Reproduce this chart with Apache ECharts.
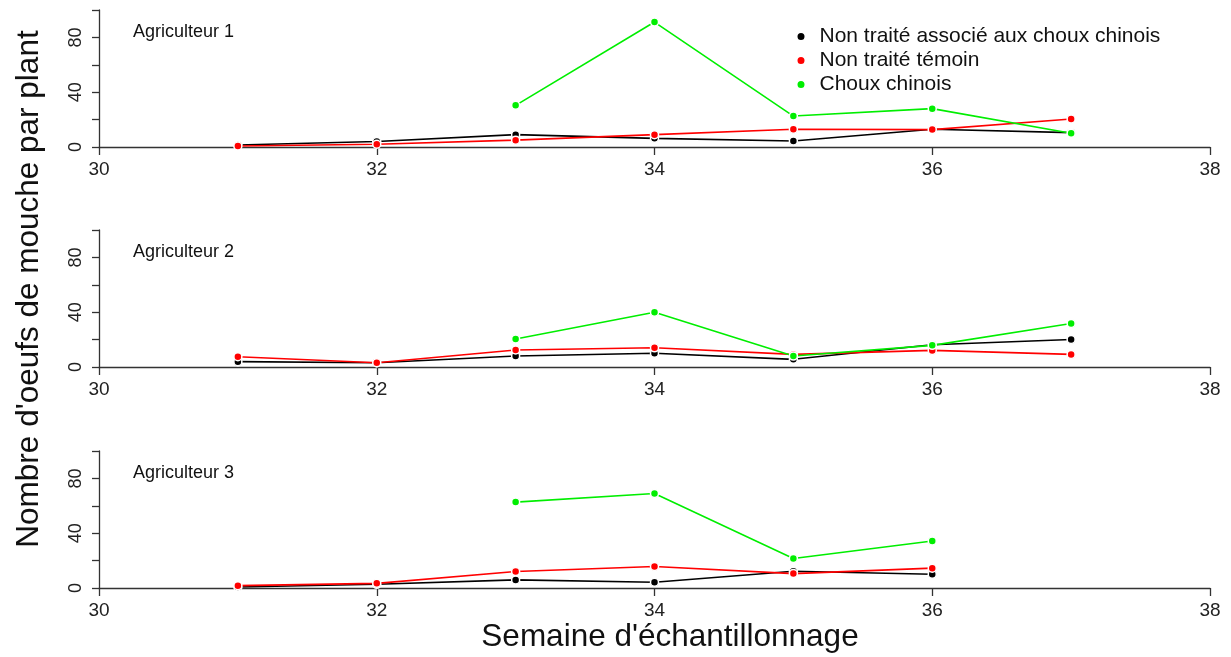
<!DOCTYPE html>
<html>
<head>
<meta charset="utf-8">
<script src="https://cdn.jsdelivr.net/npm/echarts@6/dist/echarts.min.js"></script>
<style>
html,body{margin:0;padding:0;background:#fff;}
#chart{width:1231px;height:657px;}
</style>
</head>
<body>
<div id="chart"></div>
<script>
// ---- data ----
const weeks = [31, 32, 33, 34, 35, 36, 37];
const seriesNames = ["Non traité associé aux choux chinois", "Non traité témoin", "Choux chinois"];
const panelLabels = ["Agriculteur 1", "Agriculteur 2", "Agriculteur 3"];
const xTicks = [30, 32, 34, 36, 38];
const yTickLabels = [0, 40, 80];

const a1Black = [1.5, 4, 9, 6.3, 4.4, 13, 10.5];
const a1Red   = [0.7, 2, 5, 9, 13, 12.7, 20.4];
const a1Green = [null, null, 30.4, 91.2, 22.6, 28, 10];

const a2Black = [3.9, 3.1, 8, 10, 5.6, 16.2, 20.1];
const a2Red   = [7.5, 3.1, 12.4, 14, 9.2, 12.1, 9.2];
const a2Green = [null, null, 20.4, 40, 8, 15.8, 31.8];

const a3Black = [0.7, 2.7, 5.9, 4.2, 12.2, 10, null];
const a3Red   = [1.7, 3.4, 12, 15.7, 10.5, 14.5, null];
const a3Green = [null, null, 62.7, 69, 21.5, 34.3, null];

const panels = [[a1Black, a1Red, a1Green], [a2Black, a2Red, a2Green], [a3Black, a3Red, a3Green]];
const colors = ["#000000", "#ff0000", "#00ee00"];

// ---- chart ----
const FONT = "Liberation Sans, Arial, Helvetica, sans-serif";
const gridTops = [10, 230, 451];
const gridH = 137;
const grids = [], xAxes = [], yAxes = [], series = [], graphics = [];

gridTops.forEach((top, i) => {
  grids.push({left: 99, width: 1111, top: top, height: gridH, containLabel: false});
  xAxes.push({
    type: 'value', gridIndex: i, min: xTicks[0], max: xTicks[xTicks.length - 1], interval: 2,
    axisLine: {show: true, onZero: false, lineStyle: {color: '#333', width: 1.3}},
    axisTick: {show: true, inside: false, length: 8, lineStyle: {color: '#333', width: 1.3}},
    axisLabel: {show: true, margin: 13, fontSize: 19, color: '#222', fontFamily: FONT},
    splitLine: {show: false}
  });
  yAxes.push({
    type: 'value', gridIndex: i, min: 0, max: 100, interval: 20,
    axisLine: {show: true, lineStyle: {color: '#333', width: 1.3}},
    axisTick: {show: true, inside: false, length: 7, lineStyle: {color: '#333', width: 1.3}},
    axisLabel: {show: true, rotate: 90, margin: 14, fontSize: 18, color: '#222', fontFamily: FONT,
      formatter: v => yTickLabels.indexOf(v) >= 0 ? String(v) : ''},
    splitLine: {show: false}
  });
  panels[i].forEach((vals, k) => {
    const pts = [];
    vals.forEach((v, j) => { if (v !== null) pts.push([weeks[j], v]); });
    series.push({
      name: seriesNames[k], type: 'line', xAxisIndex: i, yAxisIndex: i,
      data: pts, symbol: 'circle', symbolSize: 8, showSymbol: true,
      itemStyle: {color: colors[k], borderColor: '#fff', borderWidth: 1.5},
      lineStyle: {color: colors[k], width: 1.6},
      animation: false, z: 2 + k
    });
  });
  graphics.push({
    type: 'text', left: 133, top: top + 13,
    style: {text: panelLabels[i], fontSize: 18, fill: '#111', fontFamily: FONT}
  });
});

graphics.push({
  type: 'text', x: 29, y: 289, rotation: Math.PI / 2,
  style: {text: "Nombre d'oeufs de mouche par plant", fontSize: 31.5, fill: '#111', fontFamily: FONT,
    align: 'center', verticalAlign: 'middle'}
});
graphics.push({
  type: 'text', x: 670, y: 637,
  style: {text: "Semaine d'échantillonnage", fontSize: 31.5, fill: '#111', fontFamily: FONT,
    align: 'center', verticalAlign: 'middle'}
});

const chart = echarts.init(document.getElementById('chart'), null, {renderer: 'canvas'});
chart.setOption({
  backgroundColor: '#fff',
  animation: false,
  grid: grids, xAxis: xAxes, yAxis: yAxes, series: series,
  legend: {
    data: seriesNames, orient: 'vertical', left: 790.5, top: 21,
    icon: 'circle', itemWidth: 9, itemHeight: 9, itemGap: 3,
    textStyle: {fontSize: 21, color: '#111', fontFamily: FONT, padding: [0, 0, 0, 9]}
  },
  graphic: graphics
});
</script>
</body>
</html>
